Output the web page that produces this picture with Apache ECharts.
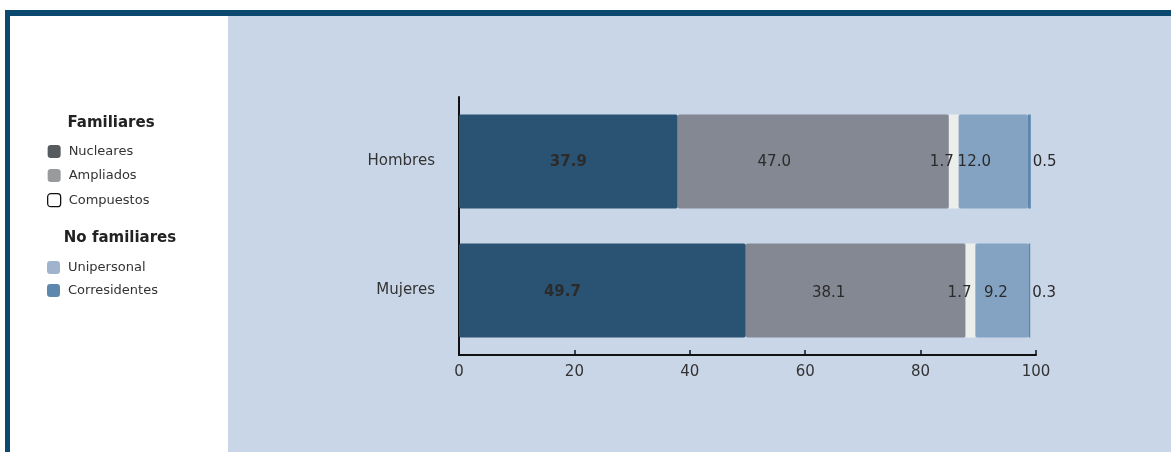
<!DOCTYPE html>
<html>
<head>
<meta charset="utf-8">
<script src="https://cdn.jsdelivr.net/npm/echarts@6/dist/echarts.min.js"></script>
<style>
  html,body{margin:0;padding:0;background:#fff;}
  #wrap{position:relative;width:1171px;height:452px;overflow:hidden;background:#fff;}
  .b{position:absolute;}
  #chart{position:absolute;left:0;top:0;width:1171px;height:452px;}
</style>
</head>
<body>
<div id="wrap">
  <div class="b" style="left:5px;top:10px;width:1166px;height:6px;background:#0b4a6e;"></div>
  <div class="b" style="left:5px;top:10px;width:5px;height:442px;background:#0b4a6e;"></div>
  <div class="b" style="left:228px;top:16px;width:943px;height:436px;background:#c9d6e8;"></div>
  <div id="chart"></div>
</div>
<script>
const categories = ['Hombres', 'Mujeres'];
const nucleares = [37.9, 49.7];
const ampliados = [47.0, 38.1];
const compuestos = [1.7, 1.7];
const unipersonal = [12.0, 9.2];
const corresidentes = [0.5, 0.3];
const xTicks = [0, 20, 40, 60, 80, 100];

const font = '"DejaVu Sans", sans-serif';
const chart = echarts.init(document.getElementById('chart'));

const fmt = p => p.value.toFixed(1);
const barW = 94;
const txt = '#2b2b2b';

// label placement tweaks (style only, per bar)
function withOffsets(values, offsets) {
  return values.map((v, i) => ({ value: v, label: { offset: offsets[i] } }));
}

chart.setOption({
  animation: false,
  textStyle: { fontFamily: font },
  title: [
    { text: 'Familiares', left: 106, top: 111, textAlign: 'center',
      textStyle: { fontSize: 15, fontWeight: 'bold', color: '#222', fontFamily: font } },
    { text: 'No familiares', left: 115, top: 226, textAlign: 'center',
      textStyle: { fontSize: 15, fontWeight: 'bold', color: '#222', fontFamily: font } }
  ],
  legend: [
    { orient: 'vertical', left: 42, top: 140, itemWidth: 13, itemHeight: 13, itemGap: 11,
      icon: 'roundRect', textStyle: { fontSize: 13, color: '#333', fontFamily: font, padding: [0, 0, 0, 3] },
      data: [
        { name: 'Nucleares', itemStyle: { color: '#555b5e' } },
        { name: 'Ampliados', itemStyle: { color: '#999a9c' } },
        { name: 'Compuestos', itemStyle: { color: '#ffffff', borderColor: '#111', borderWidth: 1.3 } }
      ] },
    { orient: 'vertical', left: 42, top: 256, itemWidth: 13, itemHeight: 13, itemGap: 10,
      icon: 'roundRect', textStyle: { fontSize: 13, color: '#333', fontFamily: font, padding: [0, 0, 0, 3] },
      data: [
        { name: 'Unipersonal', itemStyle: { color: '#9fb3cc' } },
        { name: 'Corresidentes', itemStyle: { color: '#5d87ad' } }
      ] }
  ],
  grid: { left: 459, right: 135, top: 97, bottom: 97 },
  xAxis: {
    type: 'value', min: 0, max: 100, interval: 20,
    axisLine: { show: true, lineStyle: { color: '#111', width: 2 } },
    axisTick: { show: true, inside: true, length: 5, lineStyle: { color: '#111', width: 1.5 } },
    splitLine: { show: false },
    axisLabel: { fontSize: 15, color: '#333', margin: 10, fontFamily: font,
      formatter: v => xTicks.includes(v) ? String(v) : '' }
  },
  yAxis: {
    type: 'category', data: categories, inverse: true,
    axisLine: { show: true, lineStyle: { color: '#111', width: 2 } },
    axisTick: { show: false },
    axisLabel: { fontSize: 15, color: '#333', margin: 24, fontFamily: font, padding: [4, 0, 0, 0] }
  },
  series: [
    { name: 'Nucleares', type: 'bar', stack: 't', barWidth: barW,
      data: withOffsets(nucleares, [[0, 1], [-40, 2]]),
      itemStyle: { color: '#2a5273', borderRadius: 2 },
      label: { show: true, position: 'inside', formatter: fmt, fontSize: 15, fontWeight: 'bold', color: txt, fontFamily: font } },
    { name: 'Ampliados', type: 'bar', stack: 't', barWidth: barW,
      data: withOffsets(ampliados, [[-39, 1], [-27, 3]]),
      itemStyle: { color: '#838892', borderRadius: 2 },
      label: { show: true, position: 'inside', formatter: fmt, fontSize: 15, color: txt, fontFamily: font } },
    { name: 'Compuestos', type: 'bar', stack: 't', barWidth: barW,
      data: withOffsets(compuestos, [[-12, 1], [-11, 3]]),
      itemStyle: { color: '#eceeec' },
      label: { show: true, position: 'inside', formatter: fmt, fontSize: 15, color: txt, fontFamily: font } },
    { name: 'Unipersonal', type: 'bar', stack: 't', barWidth: barW,
      data: withOffsets(unipersonal, [[-19, 1], [-6, 3]]),
      itemStyle: { color: '#84a3c2', borderRadius: 2 },
      label: { show: true, position: 'inside', formatter: fmt, fontSize: 15, color: txt, fontFamily: font } },
    { name: 'Corresidentes', type: 'bar', stack: 't', barWidth: barW,
      data: withOffsets(corresidentes, [[0, 1], [0, 3]]),
      itemStyle: { color: '#5b87ad' },
      label: { show: true, position: 'right', distance: 2, formatter: fmt, fontSize: 15, color: txt, fontFamily: font } }
  ]
});
</script>
</body>
</html>
